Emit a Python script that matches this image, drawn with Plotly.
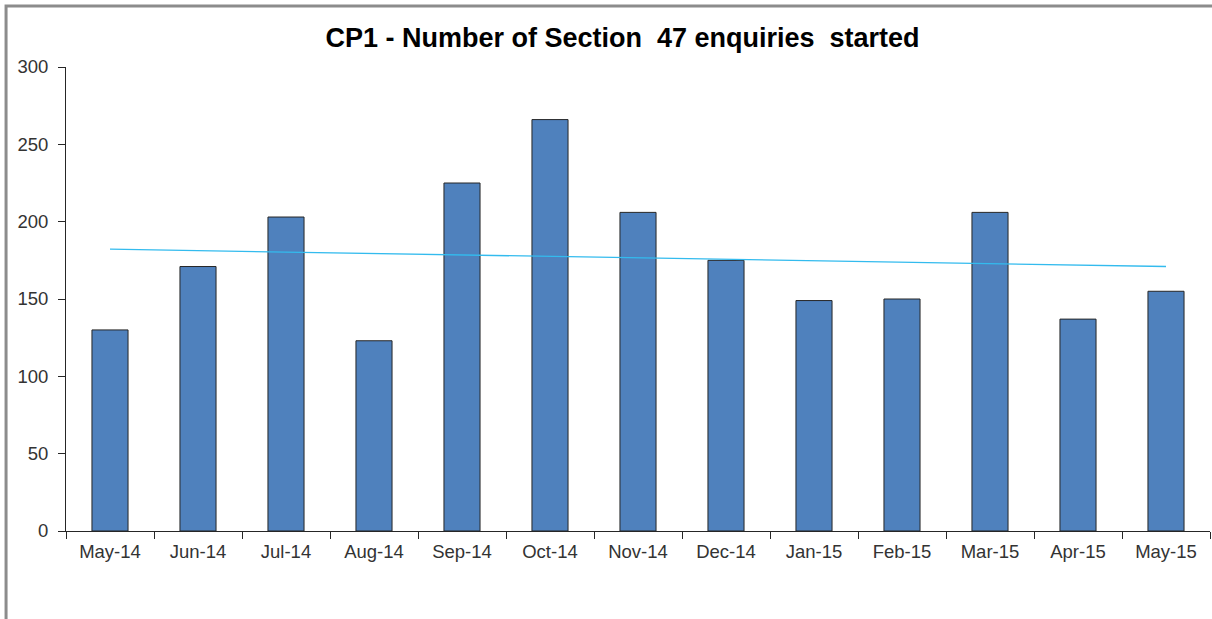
import numpy as np
import plotly.graph_objects as go

months = ["May-14", "Jun-14", "Jul-14", "Aug-14", "Sep-14", "Oct-14", "Nov-14",
          "Dec-14", "Jan-15", "Feb-15", "Mar-15", "Apr-15", "May-15"]
enquiries = [130, 171, 203, 123, 225, 266, 206, 175, 149, 150, 206, 137, 155]

# linear trend line, fitted to the monthly counts
idx = np.arange(len(enquiries))
slope, intercept = np.polyfit(idx, enquiries, 1)
trend = slope * idx + intercept

fig = go.Figure()

fig.add_trace(go.Bar(
    x=months,
    y=enquiries,
    marker=dict(color="#4f81bd", line=dict(color="#262626", width=1)),
    width=0.41,
    name="Enquiries started"
))

fig.add_trace(go.Scatter(
    x=months,
    y=trend,
    mode="lines",
    line=dict(color="#33bbee", width=1.3),
    name="Trend"
))

# grey frame round the chart area (cropped on the right and bottom)
fig.add_shape(type="rect", xref="paper", yref="paper",
              x0=-0.0524, x1=1.6, y0=-0.6, y1=1.1315,
              line=dict(color="#8c8c8c", width=3), layer="below")

fig.update_layout(
    title=dict(text="<b>CP1 - Number of Section  47 enquiries  started</b>",
               x=0.5136, xanchor="center", y=0.9386, yanchor="middle",
               font=dict(family="Liberation Sans, Arial", size=27, color="#000000")),
    width=1212, height=619,
    margin=dict(l=66, r=2, t=67, b=88),
    paper_bgcolor="white",
    plot_bgcolor="white",
    showlegend=False,
    font=dict(family="Liberation Sans, Arial", size=18, color="#333333"),
    xaxis=dict(
        showline=True, linecolor="#262626", linewidth=1,
        ticks="outside", tickson="boundaries", ticklen=7, tickcolor="#262626",
        ticklabelstandoff=4,
        showgrid=False, tickfont=dict(size=18.5, color="#333333")
    ),
    yaxis=dict(
        range=[0, 300], dtick=50,
        showline=True, linecolor="#262626", linewidth=1,
        ticks="outside", ticklen=7, tickcolor="#262626",
        ticklabelstandoff=6,
        showgrid=False, zeroline=False, tickfont=dict(size=18.5, color="#333333")
    ),
)

# drop the page's default body margin so the figure sits at the window's corner
fig.write_html("out.html",
               config={"displayModeBar": False},
               post_script="document.body.style.margin='0';document.body.style.overflow='hidden';")
